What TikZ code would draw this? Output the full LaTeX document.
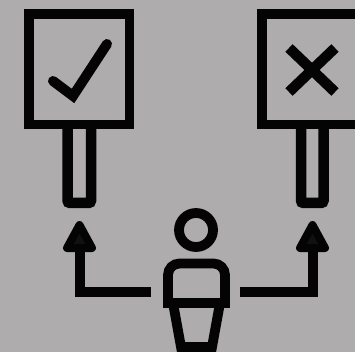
\documentclass[tikz,border=0pt]{standalone}
\definecolor{bgc}{HTML}{AEACAD}
\definecolor{ink}{HTML}{040404}
\tikzset{
  x=1pt,y=-1pt,
  ink line/.style={draw=ink,line width=9.8pt,line join=miter},
  connector/.style={draw=ink,line width=10pt,line join=miter,line cap=butt},
  mark stroke/.style={draw=ink,line cap=round,line join=miter},
  arrowhead/.style={draw=ink,fill=ink!92!bgc,line width=8pt,line join=round},
}
\begin{document}
\begin{tikzpicture}
\useasboundingbox (0,0) rectangle (355,352);
\clip (0,0) rectangle (355,352);
\fill[bgc] (0,0) rectangle (355,352);
% signs
\draw[ink line] (29,14) rectangle (129.5,124.5);
\draw[ink line] (262,14) rectangle (362,124.5);
% poles
\draw[ink line,line width=10.5pt,rounded corners=2.5pt] (67.5,124) -- (67.5,203) -- (91,203) -- (91,124);
\draw[ink line,line width=10.5pt,rounded corners=2.5pt] (301,124) -- (301,203) -- (323.5,203) -- (323.5,124);
% check and cross
\draw[mark stroke,line width=10pt] (53,81) -- (73,96) -- (107,44);
\draw[mark stroke,line width=10.5pt,line cap=butt] (289,48) -- (335,92);
\draw[mark stroke,line width=10.5pt,line cap=butt] (335,48) -- (289,92);
% person
\coordinate (head) at (196,230);
\draw[ink line] (head) circle[radius=17];
\draw[ink line] (168,303) -- (168,275) arc[start angle=180,end angle=270,radius=11.5] -- (213.5,263.5) arc[start angle=270,end angle=360,radius=11.5] -- (225,303) -- cycle;
\draw[ink line] (173,303) -- (181,347) -- (212,347) -- (220,303);
% arrows
\coordinate (personL) at (151,292);
\coordinate (personR) at (240,292);
\coordinate (tipL) at (79.5,225);
\coordinate (tipR) at (312.5,225);
\coordinate (bendL) at (79.5,292);
\coordinate (bendR) at (312.5,292);
\draw[connector] (personL) -- (bendL) -- (79.5,245);
\draw[connector] (personR) -- (bendR) -- (312.5,245);
\draw[arrowhead] (tipL) -- (67,248) -- (92,248) -- cycle;
\draw[arrowhead] (tipR) -- (300,248) -- (325,248) -- cycle;
\end{tikzpicture}
\end{document}
